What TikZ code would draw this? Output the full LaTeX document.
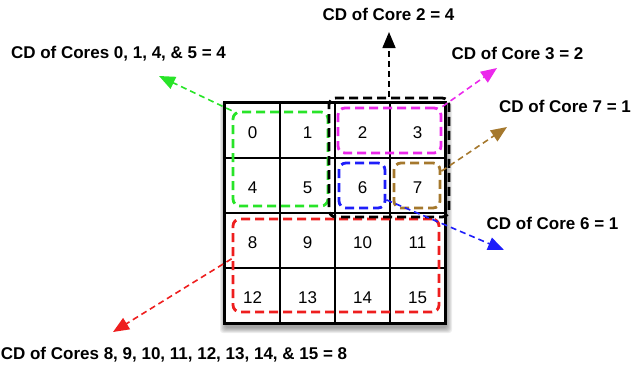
\documentclass[tikz,border=0pt]{standalone}
\usepackage{fontspec}
\setmainfont{Liberation Sans}
\usetikzlibrary{arrows.meta,calc}
\definecolor{cgreen}{RGB}{40,228,40}
\definecolor{cmag}{RGB}{235,40,235}
\definecolor{cblue}{RGB}{30,30,250}
\definecolor{cbrown}{RGB}{165,120,45}
\definecolor{cred}{RGB}{238,30,30}
\begin{document}
\begin{tikzpicture}[x=1pt,y=-1pt,
  cell/.style={draw=black,fill=white,line width=1.3pt,minimum size=55pt,inner sep=0pt,
    font=\fontsize{17}{17}\selectfont,text height=15.5pt,text depth=0pt},
  group/.style={draw,line width=2.8pt,dash pattern=on 9pt off 5pt,rounded corners=7pt,inner sep=0pt},
  link/.style={line width=1.6pt,dash pattern=on 6pt off 4pt,-{Triangle[length=16pt,width=13pt]}},
  lbl/.style={font=\fontsize{17}{17}\selectfont\bfseries,inner sep=0pt,text depth=0pt}
]
\useasboundingbox (0,0) rectangle (631,368);
% shadow
\foreach \k in {0,...,5}{
  \fill[black,opacity=0.07,rounded corners=3pt] (220+\k,102+\k) rectangle (452-\k,333-\k);
}
% cells
\foreach \r in {0,1,2,3}{
  \foreach \c in {0,1,2,3}{
    \pgfmathtruncatemacro\idx{4*\r+\c}
    \node[cell] (c\idx) at (252.5+55*\c,130.5+55*\r) {\idx};
  }
}
\draw[line width=2pt] (c0.north west) rectangle (c15.south east);
% groups
\node[group,draw=cgreen,minimum width=95pt,minimum height=94pt] (g0) at (280.5,159) {};
\node[group,draw=cred,minimum width=206pt,minimum height=93pt] (gR) at (336,265.5) {};
\node[group,draw=cmag,minimum width=103pt,minimum height=45pt] (gM) at (389.5,130.5) {};
\node[group,draw=cblue,minimum width=46pt,minimum height=45pt] (gB) at (362,185.5) {};
\node[group,draw=cbrown,minimum width=46pt,minimum height=45pt] (gBr) at (417,185.5) {};
\node[group,draw=black,minimum width=120pt,minimum height=119pt] (gK) at (389,157.5) {};
% labels
\node[lbl] (t2) at (388.5,14) {CD of Core 2 = 4};
\node[lbl] (t0) at (118.5,52) {CD of Cores 0, 1, 4, \& 5 = 4};
\node[lbl] (t3) at (517.5,53) {CD of Core 3 = 2};
\node[lbl] (t7) at (565,106) {CD of Core 7 = 1};
\node[lbl] (t6) at (552.5,223) {CD of Core 6 = 1};
\node[lbl] (t8) at (174,353) {CD of Cores 8, 9, 10, 11, 12, 13, 14, \& 15 = 8};
% arrow tips
\coordinate (a2) at (389,32);
\coordinate (a0) at (159,76);
\coordinate (a3) at (497,68);
\coordinate (a7) at (507,127);
\coordinate (a6) at (504,250);
\coordinate (a8) at (113,332);
% arrows
\draw[link,black] (gK.north) -- (a2);
\draw[link,cgreen] (g0.north west) -- (a0);
\draw[link,cmag] (gM.north east) -- (a3);
\draw[link,cbrown] ($(gBr.north east)!0.2!(gBr.south east)$) -- (a7);
\draw[link,cblue] ($(gB.north east)!0.8!(gB.south east)$) -- (a6);
\draw[link,cred] ($(gR.north west)!0.43!(gR.south west)$) -- (a8);
\end{tikzpicture}
\end{document}
